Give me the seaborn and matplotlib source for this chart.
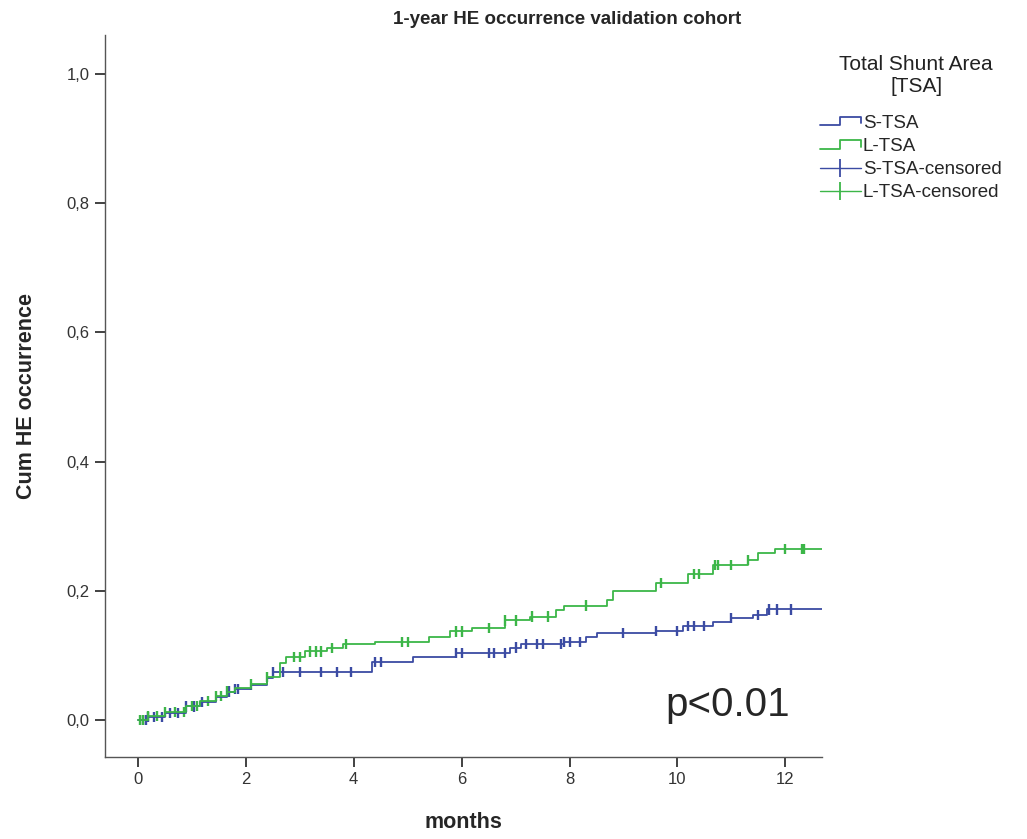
import numpy as np
import pandas as pd
import matplotlib
matplotlib.use("Agg")
import matplotlib.pyplot as plt
import seaborn as sns
from matplotlib.lines import Line2D
from matplotlib.legend_handler import HandlerBase

# --- данные ---
S_TIMES = [0.0, 0.2, 0.5, 0.9, 1.15, 1.45, 1.65, 1.8, 2.1, 2.4, 2.5, 4.35, 5.1, 5.9, 6.9, 7.1, 7.9, 8.3, 8.5, 9.6, 10.1, 10.65, 11.0, 11.4, 11.65, 12.7]
S_VALUES = [0.0, 0.005, 0.011, 0.021, 0.028, 0.036, 0.044, 0.048, 0.054, 0.065, 0.074, 0.090, 0.098, 0.104, 0.112, 0.118, 0.121, 0.129, 0.135, 0.138, 0.145, 0.151, 0.158, 0.163, 0.171, 0.174]

L_TIMES = [0.0, 0.2, 0.5, 0.9, 1.15, 1.45, 1.65, 1.8, 2.1, 2.4, 2.63, 2.75, 3.1, 3.5, 3.8, 4.4, 5.4, 5.78, 6.2, 6.8, 7.26, 7.75, 7.9, 8.7, 8.8, 9.6, 10.2, 10.65, 11.3, 11.5, 11.8, 12.7]
L_VALUES = [0.0, 0.006, 0.012, 0.022, 0.029, 0.037, 0.044, 0.049, 0.055, 0.066, 0.088, 0.098, 0.106, 0.111, 0.118, 0.121, 0.129, 0.137, 0.142, 0.154, 0.160, 0.170, 0.177, 0.186, 0.199, 0.212, 0.226, 0.240, 0.248, 0.259, 0.265, 0.267]

S_CENSORED = [0.1, 0.15, 0.2, 0.3, 0.45, 0.6, 0.75, 0.9, 1.05, 1.2, 1.7, 1.8, 1.85, 2.5, 2.7, 3.0, 3.4, 3.7, 3.95, 4.4, 4.5,
              5.9, 6.0, 6.5, 6.6, 6.8, 7.0, 7.2, 7.4, 7.5, 7.85, 7.9, 8.0, 8.2, 9.0, 9.6, 10.0, 10.2, 10.3, 10.5,
              11.0, 11.5, 11.7, 11.85, 12.1]
L_CENSORED = [0.05, 0.1, 0.2, 0.35, 0.5, 0.7, 0.85, 1.0, 1.1, 1.3, 1.45, 1.55, 1.65, 2.1, 2.4, 2.9, 3.0, 3.2, 3.3, 3.4, 3.6,
              3.85, 4.9, 5.0, 5.9, 6.0, 6.5, 6.8, 7.0, 7.3, 7.6, 8.3, 9.7, 10.3, 10.4, 10.7, 10.75, 11.0, 11.3, 12.0,
              12.3, 12.35]

X_TICKS = [0, 2, 4, 6, 8, 10, 12]
Y_TICKS = [0.0, 0.2, 0.4, 0.6, 0.8, 1.0]
Y_TICK_LABELS = ["0,0", "0,2", "0,4", "0,6", "0,8", "1,0"]

BLUE = "#3b4ba3"
GREEN = "#3cb648"


def step_value(times, values, t):
    """Значение ступенчатой кривой в момент t."""
    idx = np.searchsorted(times, t, side="right") - 1
    return np.asarray(values)[np.clip(idx, 0, len(values) - 1)]


df_curves = pd.concat([
    pd.DataFrame({"months": S_TIMES, "cum": S_VALUES, "group": "S-TSA"}),
    pd.DataFrame({"months": L_TIMES, "cum": L_VALUES, "group": "L-TSA"}),
], ignore_index=True)

df_cens = pd.concat([
    pd.DataFrame({"months": S_CENSORED, "cum": step_value(S_TIMES, S_VALUES, S_CENSORED), "group": "S-TSA"}),
    pd.DataFrame({"months": L_CENSORED, "cum": step_value(L_TIMES, L_VALUES, L_CENSORED), "group": "L-TSA"}),
], ignore_index=True)

sns.set_theme(style="white")
plt.rcParams["font.family"] = ["Liberation Sans", "DejaVu Sans"]

fig = plt.figure(figsize=(10.27, 8.39), dpi=100)
ax = fig.add_axes([0.102, 0.098, 0.698, 0.86])

palette = {"S-TSA": BLUE, "L-TSA": GREEN}
sns.lineplot(data=df_curves, x="months", y="cum", hue="group", palette=palette,
             drawstyle="steps-post", linewidth=1.3, legend=False, ax=ax, estimator=None, sort=False)
sns.scatterplot(data=df_cens, x="months", y="cum", hue="group", palette=palette,
                marker="|", s=55, linewidth=1.7, legend=False, ax=ax)

ax.set_xlim(-0.61, 12.67)
ax.set_ylim(-0.057, 1.06)
ax.set_xticks(X_TICKS)
ax.set_xticklabels([str(t) for t in X_TICKS])
ax.set_yticks(Y_TICKS)
ax.set_yticklabels(Y_TICK_LABELS)
ax.tick_params(axis="both", direction="out", length=7, width=1.3, color="#333333",
               labelsize=12, labelcolor="#333333", left=True, bottom=True, pad=4)
for side in ["top", "right"]:
    ax.spines[side].set_visible(False)
for side in ["left", "bottom"]:
    ax.spines[side].set_color("#555555")
    ax.spines[side].set_linewidth(1.0)

ax.set_xlabel("months", fontsize=15.5, fontweight="bold")
ax.set_ylabel("Cum HE occurrence", fontsize=15.5, fontweight="bold")
ax.xaxis.set_label_coords(0.5, -0.077)
ax.yaxis.set_label_coords(-0.094, 0.5)
fig.text(0.552, 0.977, "1-year HE occurrence validation cohort", ha="center", va="center",
         fontsize=13.5, fontweight="bold")
ax.text(0.869, 0.072, "p<0.01", transform=ax.transAxes, ha="center", va="center", fontsize=29)


class StepHandler(HandlerBase):
    """Значок ступеньки для легенды, как в SPSS."""

    def create_artists(self, legend, orig_handle, xdescent, ydescent, width, height, fontsize, trans):
        x0, x1 = -xdescent, -xdescent + width
        xm = x0 + width * 0.5
        y0, y1 = -ydescent + height * 0.2, -ydescent + height * 0.85
        line = Line2D([x0, xm, xm, x1, x1], [y0, y0, y1, y1, y0 + height * 0.15],
                      color=orig_handle.get_color(), linewidth=1.3, transform=trans)
        return [line]


h_s = Line2D([], [], color=BLUE)
h_l = Line2D([], [], color=GREEN)
h_sc = Line2D([], [], color=BLUE, marker="|", markersize=13, linewidth=1.0, markeredgewidth=1.3)
h_lc = Line2D([], [], color=GREEN, marker="|", markersize=13, linewidth=1.0, markeredgewidth=1.3)

# заголовок легенды отдельно, чтобы точно попасть в позицию
fig.text(0.892, 0.910, "Total Shunt Area\n[TSA]", ha="center", va="center", fontsize=15,
         linespacing=1.25, color="#222222")
leg = fig.legend([h_s, h_l, h_sc, h_lc], ["S-TSA", "L-TSA", "S-TSA-censored", "L-TSA-censored"],
                 loc="upper left", bbox_to_anchor=(0.798, 0.863), borderaxespad=0, borderpad=0,
                 frameon=False, fontsize=13.5, handlelength=2.2,
                 handletextpad=0.1, labelspacing=0.32,
                 handler_map={h_s: StepHandler(), h_l: StepHandler()})

fig.savefig("out.png", dpi=100)
